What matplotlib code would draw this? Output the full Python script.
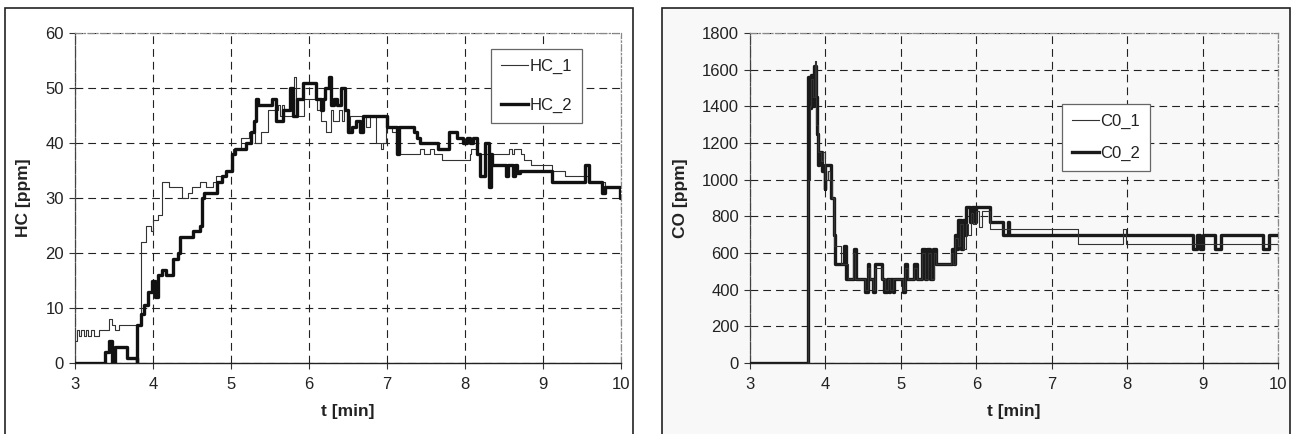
import matplotlib
matplotlib.use("Agg")
import matplotlib.pyplot as plt
from matplotlib.patches import Rectangle

plt.rcParams['font.family'] = ['Liberation Sans', 'DejaVu Sans']

# ---------------- data ----------------
# HC_1 (thin) step series: time [min], value [ppm]
hc1_t = [3.00, 3.02, 3.05, 3.08, 3.11, 3.14, 3.17, 3.20, 3.24, 3.31, 3.43, 3.47, 3.51, 3.54,
         3.57, 3.80, 3.84, 3.91, 3.97, 4.00, 4.07, 4.11, 4.21, 4.37, 4.45, 4.50, 4.60, 4.68,
         4.77, 4.81, 4.93, 5.02, 5.13, 5.23, 5.31, 5.38, 5.47, 5.60, 5.63, 5.66, 5.68, 5.81,
         5.83, 5.94, 6.10, 6.15, 6.22, 6.28, 6.31, 6.38, 6.42, 6.45, 6.49, 6.53, 6.73, 6.78,
         6.86, 6.92, 6.95, 6.99, 7.01, 7.06, 7.12, 7.42, 7.48, 7.55, 7.60, 7.71, 8.06, 8.08,
         8.15, 8.56, 8.60, 8.63, 8.72, 8.76, 8.85, 9.12, 9.28, 9.58, 9.80, 9.99, 10.00]
hc1_v = [4, 6, 5, 6, 5, 6, 5, 6, 5, 6, 8, 7, 6, 6,
         7, 7, 22, 25, 24, 26, 27, 33, 32, 30, 31, 32, 33, 32,
         33, 34, 35, 39, 41, 42, 40, 42, 46, 47, 45, 47, 45, 52,
         45, 48, 46, 44, 42, 46, 44, 46, 44, 46, 42, 45, 43, 45,
         40, 39, 40, 45, 43, 42, 38, 39, 38, 39, 38, 37, 38, 39,
         38, 39, 38, 39, 38, 37, 36, 35, 34, 33, 32, 30, 30]

# HC_2 (thick)
hc2_t = [3.00, 3.38, 3.43, 3.47, 3.51, 3.55, 3.67, 3.79, 3.80, 3.84, 3.88, 3.93, 3.99,
         4.03, 4.07, 4.11, 4.17, 4.26, 4.32, 4.35, 4.51, 4.60, 4.63, 4.65, 4.82, 4.89,
         4.93, 5.01, 5.05, 5.19, 5.25, 5.29, 5.32, 5.34, 5.52, 5.58, 5.67, 5.75, 5.80,
         5.84, 5.92, 6.09, 6.15, 6.18, 6.21, 6.25, 6.28, 6.32, 6.36, 6.41, 6.46, 6.50,
         6.55, 6.60, 6.66, 6.69, 7.00, 7.13, 7.15, 7.34, 7.38, 7.42, 7.66, 7.80, 7.90,
         7.97, 8.02, 8.06, 8.10, 8.16, 8.19, 8.25, 8.31, 8.33, 8.35, 8.52, 8.55, 8.61,
         8.64, 8.67, 8.70, 9.12, 9.54, 9.59, 9.76, 9.79, 9.99, 10.00]
hc2_v = [0, 2, 4, 0, 3, 3, 1, 0, 7, 9, 10.5, 13, 15,
         12, 16, 17, 16, 19, 20, 23, 24, 25, 30, 31, 33, 34,
         35, 38, 39, 40, 42, 44, 48, 47, 48, 44, 46, 50, 45,
         48, 51, 48, 46, 48, 50, 52, 47, 48, 47, 50, 46, 42,
         43, 44, 42, 45, 43, 38, 43, 42, 41, 40, 39, 42, 41,
         40, 41, 40, 41, 38, 34, 40, 32, 38, 36, 34, 36, 34,
         36, 34.5, 35, 33, 36, 33, 31, 32, 30, 30]

# CO_1 (thin)
co1_t = [3.00, 3.76, 3.77, 3.79, 3.81, 3.84, 3.86, 3.88, 3.90, 3.94, 3.97, 4.00, 4.03,
         4.06, 4.09, 4.11, 4.20, 4.30, 4.36, 4.39, 4.52, 4.56, 4.59, 4.63, 4.66, 4.75,
         4.79, 4.83, 4.86, 4.90, 4.92, 5.03, 5.05, 5.09, 5.17, 5.21, 5.28, 5.32, 5.36,
         5.40, 5.44, 5.47, 5.66, 5.69, 5.72, 5.76, 5.79, 5.83, 5.86, 5.89, 5.93, 5.96,
         6.00, 6.04, 6.07, 6.18, 7.35, 7.95, 7.99, 10.00]
co1_v = [0, 0, 1000, 1400, 1550, 1450, 1650, 1300, 1150, 1100, 1150, 1000, 1050,
         1000, 900, 640, 540, 460, 600, 460, 400, 520, 460, 400, 520, 460,
         400, 460, 400, 460, 460, 400, 520, 460, 520, 460, 600, 460, 600,
         460, 600, 540, 600, 540, 680, 640, 760, 620, 760, 700, 820, 760,
         830, 740, 830, 730, 650, 730, 650, 650]

# CO_2 (thick)
co2_t = [3.00, 3.77, 3.79, 3.81, 3.83, 3.85, 3.87, 3.89, 3.90, 3.91, 3.96, 3.99, 4.00,
         4.02, 4.07, 4.08, 4.11, 4.13, 4.25, 4.27, 4.38, 4.40, 4.52, 4.56, 4.58, 4.63,
         4.66, 4.75, 4.78, 4.82, 4.84, 4.86, 4.89, 4.91, 5.03, 5.05, 5.08, 5.17, 5.21,
         5.28, 5.32, 5.35, 5.39, 5.43, 5.46, 5.68, 5.70, 5.72, 5.75, 5.76, 5.80, 5.83,
         5.85, 5.87, 5.92, 5.94, 5.98, 6.00, 6.18, 6.36, 6.42, 6.44, 8.87, 8.92, 8.96,
         9.01, 9.16, 9.25, 9.80, 9.88, 10.00]
co2_v = [0, 1560, 1390, 1570, 1400, 1620, 1450, 1250, 1080, 1150, 1050, 950, 1080,
         1080, 950, 900, 700, 540, 640, 460, 620, 460, 385, 540, 460, 385,
         540, 460, 385, 460, 385, 460, 385, 460, 385, 540, 460, 540, 460,
         620, 460, 620, 460, 620, 540, 620, 540, 700, 620, 780, 620, 780,
         700, 850, 770, 850, 770, 850, 770, 700, 770, 700, 620, 700, 620,
         700, 620, 700, 620, 700, 700]

x_ticks = [3, 4, 5, 6, 7, 8, 9, 10]
hc_ticks = [0, 10, 20, 30, 40, 50, 60]
co_ticks = [0, 200, 400, 600, 800, 1000, 1200, 1400, 1600, 1800]

# ---------------- figure ----------------
W, H = 1292, 434
fig = plt.figure(figsize=(W / 100, H / 100), dpi=100)

def fx(px):
    return px / W

def fy(py):
    return 1 - py / H

# panel frames / backgrounds
fig.patches.append(Rectangle((fx(662), fy(440)), fx(1290) - fx(662), fy(8) - fy(440),
                             transform=fig.transFigure, facecolor='#f8f8f8',
                             edgecolor='#222222', linewidth=1.2, zorder=-5))
fig.patches.append(Rectangle((fx(5), fy(440)), fx(633) - fx(5), fy(8) - fy(440),
                             transform=fig.transFigure, facecolor='white',
                             edgecolor='#222222', linewidth=1.2, zorder=-5))

axL = fig.add_axes([fx(75), fy(363), fx(621) - fx(75), fy(33) - fy(363)])
axR = fig.add_axes([fx(750), fy(363), fx(1278) - fx(750), fy(33) - fy(363)])

dash = (0, (7.0, 4.5))
FS = 12
FSL = 12.5

def style(ax, yticks, ylabel, ylabel_x):
    ax.set_facecolor('none')
    ax.patch.set_alpha(0)
    ax.set_xlim(3, 10)
    ax.set_ylim(yticks[0], yticks[-1])
    ax.set_xticks(x_ticks)
    ax.set_yticks(yticks)
    ax.tick_params(axis='both', direction='out', length=4, width=0.8, color='#333333',
                   labelsize=FS, labelcolor='#222222', pad=4)
    ax.tick_params(axis='x', pad=6)
    ax.grid(True, color='#222222', linestyle=dash, linewidth=0.8)
    ax.spines['bottom'].set_color('#222222')
    ax.spines['bottom'].set_linewidth(1.0)
    ax.spines['left'].set_color('#444444')
    ax.spines['left'].set_linestyle((0, (2.5, 1.2)))
    ax.spines['left'].set_linewidth(0.9)
    for s in ('top', 'right'):
        ax.spines[s].set_color('#888888')
        ax.spines[s].set_linestyle((0, (5, 2, 1, 2)))
        ax.spines[s].set_linewidth(0.9)
    ax.set_xlabel('t [min]', fontsize=FSL, fontweight='bold', color='#222222')
    ax.xaxis.set_label_coords(0.5, -0.124)
    ax.set_ylabel(ylabel, fontsize=FSL, fontweight='bold', color='#222222')
    ax.yaxis.set_label_coords(ylabel_x, 0.5)

style(axL, hc_ticks, 'HC [ppm]', -0.08)
style(axR, co_ticks, 'CO [ppm]', -0.118)

axL.plot(hc1_t, hc1_v, drawstyle='steps-post', color='#333333', linewidth=0.8, label='HC_1', zorder=3)
axL.plot(hc2_t, hc2_v, drawstyle='steps-post', color='#111111', linewidth=2.4, label='HC_2', zorder=4)
axR.plot(co2_t, co2_v, drawstyle='steps-post', color='#1a1a1a', linewidth=2.4, label='C0_2', zorder=3)
axR.plot(co1_t, co1_v, drawstyle='steps-post', color='#333333', linewidth=0.8, label='C0_1', zorder=4)

def legend(ax, x, y, order, spacing):
    h, l = ax.get_legend_handles_labels()
    idx = [l.index(o) for o in order]
    leg = ax.legend([h[i] for i in idx], [l[i] for i in idx], loc='upper left',
                    bbox_to_anchor=(fx(x), fy(y)), bbox_transform=fig.transFigure,
                    borderaxespad=0, fancybox=False, frameon=True, fontsize=FS,
                    handlelength=1.6, handletextpad=0.1, labelspacing=spacing,
                    borderpad=0.6)
    fr = leg.get_frame()
    fr.set_edgecolor('#666666')
    fr.set_linewidth(0.9)
    fr.set_facecolor('white')
    fr.set_alpha(1)
    for t in leg.get_texts():
        t.set_color('#222222')
    return leg

legend(axL, 491, 49, ['HC_1', 'HC_2'], 1.45)
legend(axR, 1062, 104, ['C0_1', 'C0_2'], 1.0)

fig.savefig('out.png', dpi=100)
